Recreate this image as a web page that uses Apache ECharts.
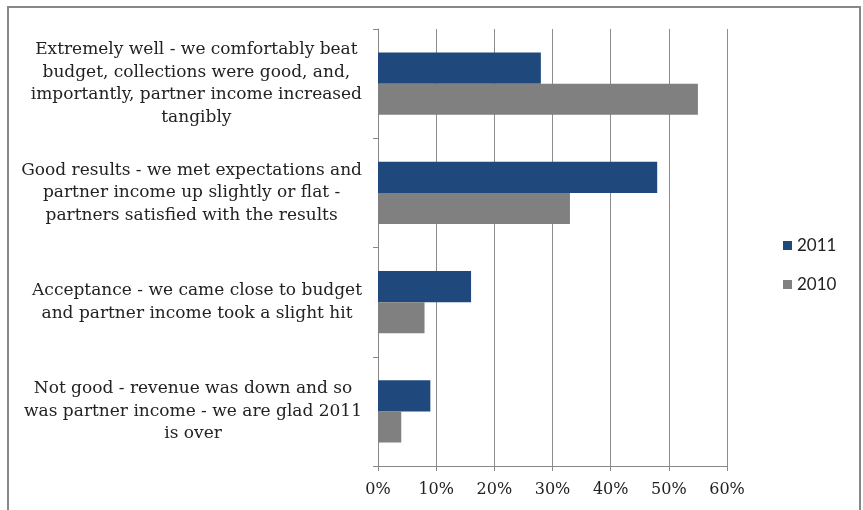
<!DOCTYPE html>
<html>
<head>
<meta charset="utf-8">
<script src="https://cdn.jsdelivr.net/npm/echarts@6/dist/echarts.min.js"></script>
<style>
  html, body { margin: 0; padding: 0; background: #fff; }
  #chart { width: 863px; height: 510px; }
</style>
</head>
<body>
<div id="chart"></div>
<script>
var categories = [
  'Extremely well - we comfortably beat\nbudget, collections were good, and,\nimportantly, partner income increased\ntangibly',
  'Good results - we met expectations and\npartner income up slightly or flat -\npartners satisfied with the results',
  'Acceptance - we came close to budget\nand partner income took a slight hit',
  'Not good - revenue was down and so\nwas partner income - we are glad 2011\nis over'
]
var values2011 = [28, 48, 16, 9]
var values2010 = [55, 33, 8, 4]
var xTicks = [0, 10, 20, 30, 40, 50, 60]

var myChart = echarts.init(document.getElementById('chart'))
myChart.setOption({
  animation: false,
  textStyle: { fontFamily: 'DejaVu Serif', color: '#222' },
  grid: { left: 378, right: 136, top: 29, bottom: 44 },
  legend: {
    orient: 'vertical',
    left: 778,
    top: 232,
    itemWidth: 9,
    itemHeight: 9,
    itemGap: 22,
    icon: 'rect',
    textStyle: { fontFamily: 'Lato', fontSize: 17, color: '#222' },
    data: ['2011', '2010']
  },
  xAxis: {
    type: 'value',
    min: xTicks[0],
    max: xTicks[xTicks.length - 1],
    interval: 10,
    axisLine: { show: true, lineStyle: { color: '#888' } },
    axisTick: { show: true, length: 5, lineStyle: { color: '#888' } },
    splitLine: { show: true, lineStyle: { color: '#8c8c8c', width: 1 } },
    axisLabel: {
      fontSize: 16,
      margin: 16,
      color: '#222',
      formatter: function (v) { return v + '%' }
    }
  },
  yAxis: {
    type: 'category',
    inverse: true,
    data: categories,
    axisLine: { show: true, lineStyle: { color: '#888' } },
    axisTick: { show: true, length: 5, lineStyle: { color: '#888' } },
    axisLabel: {
      margin: 16,
      fontSize: 17,
      lineHeight: 22.5,
      color: '#222',
      formatter: function (val) {
        return val.split('\n').map(function (s) { return '{c|' + s + '}' }).join('\n')
      },
      rich: {
        c: { align: 'center', fontSize: 17, lineHeight: 22.5, fontFamily: 'DejaVu Serif', color: '#222' }
      }
    }
  },
  series: [
    {
      name: '2011',
      type: 'bar',
      data: values2011,
      barGap: '0%',
      barCategoryGap: '43%',
      itemStyle: { color: '#1F497D' }
    },
    {
      name: '2010',
      type: 'bar',
      data: values2010,
      barGap: '0%',
      barCategoryGap: '43%',
      itemStyle: { color: '#808080' }
    }
  ],
  graphic: [
    {
      type: 'rect',
      shape: { x: 8, y: 7, width: 852, height: 520 },
      style: { fill: 'none', stroke: '#888', lineWidth: 2 },
      silent: true
    }
  ]
})
</script>
</body>
</html>
